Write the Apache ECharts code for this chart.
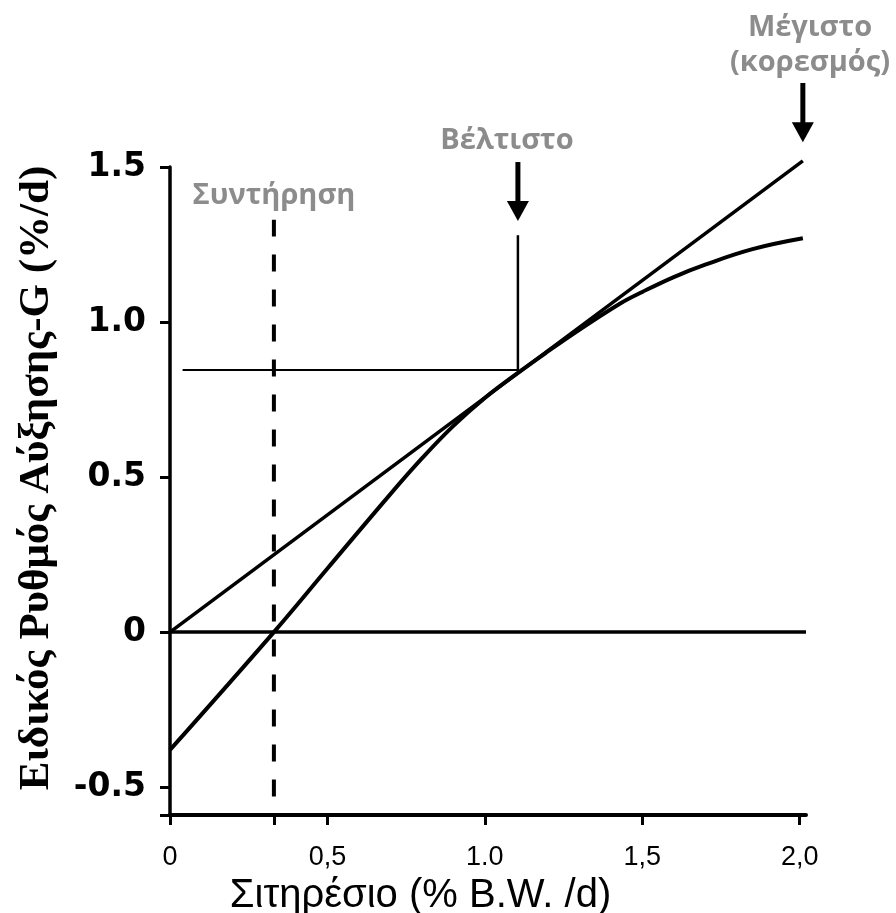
<!DOCTYPE html>
<html>
<head>
<meta charset="utf-8">
<style>
  html, body { margin: 0; padding: 0; background: #fff; }
  #chart { width: 896px; height: 913px; }
</style>
<script src="https://cdn.jsdelivr.net/npm/echarts@6/dist/echarts.min.js"></script>
</head>
<body>
<div id="chart"></div>
<script>
// Feeding rate (% B.W./d) on x, specific growth rate G (%/d) on y
const xTickValues = [0, 0.5, 1.0, 1.5, 2.0];
const xTickLabels = ['0', '0,5', '1.0', '1,5', '2,0'];
const yTickValues = [-0.5, 0, 0.5, 1.0, 1.5];
const yTickLabels = ['-0.5', '0', '0.5', '1.0', '1.5'];

// growth response curve
const rationX = [0, 0.33, 0.5, 0.7, 0.8, 0.9, 1.0, 1.105, 1.2, 1.3, 1.43, 1.5, 1.6, 1.7, 1.85, 2.01];
const growthY = [-0.38, 0, 0.205, 0.445, 0.56, 0.665, 0.755, 0.836, 0.905, 0.975, 1.06, 1.097, 1.145, 1.185, 1.235, 1.27];

// tangent from the origin, zero-growth line
const tangentX = [0, 2.01];
const tangentY = [0, 1.52];
const zeroX = [0, 2.02];
const zeroY = [0, 0];

// maintenance ration, optimum ration, maximum ration
const maintenanceRation = 0.33;
const optimumRation = 1.105;
const optimumGrowth = 0.845;
const maxRation = 2.01;

const X_MIN = 0, X_MAX = 2.02, Y_MIN = -0.59, Y_MAX = 1.5;

const toPairs = (xs, ys) => xs.map((x, i) => [x, ys[i]]);
const labelFor = (values, labels) => v => labels[values.findIndex(t => Math.abs(t - v) < 1e-6)];

const chart = echarts.init(document.getElementById('chart'), null, { renderer: 'canvas' });

const black = '#000';
const grey = '#8c8c8c';
const noteFont = 'bold 29px "Open Sans"';

const option = {
  animation: false,
  backgroundColor: '#fff',
  grid: { left: 170, top: 167, width: 636, height: 648, containLabel: false, outerBoundsMode: 'none' },
  xAxis: {
    type: 'value',
    min: X_MIN,
    max: X_MAX,
    name: 'Σιτηρέσιο (% B.W. /d)',
    nameLocation: 'middle',
    nameGap: 52,
    nameTextStyle: {
      fontFamily: 'Liberation Sans', fontSize: 40, color: black, padding: [0, 135, 0, 0]
    },
    axisLine: { onZero: false, lineStyle: { color: black, width: 4 } },
    axisTick: {
      customValues: [0, maintenanceRation].concat(xTickValues.slice(1)),
      length: 10, lineStyle: { color: black, width: 3 }
    },
    axisLabel: {
      customValues: xTickValues,
      formatter: labelFor(xTickValues, xTickLabels),
      fontFamily: 'Liberation Sans',
      fontSize: 27, color: black, margin: 29
    },
    splitLine: { show: false }
  },
  yAxis: {
    type: 'value',
    min: Y_MIN,
    max: Y_MAX,
    name: 'Ειδικός Ρυθμός Αύξησης-G (%/d)',
    nameLocation: 'middle',
    nameRotate: 90,
    nameGap: 112,
    nameTextStyle: {
      fontFamily: 'Liberation Serif', fontWeight: 'bold', fontSize: 43, color: black,
      padding: [0, 0, 0, 26]
    },
    axisLine: { onZero: false, lineStyle: { color: black, width: 3.5 } },
    axisTick: {
      customValues: [Y_MIN].concat(yTickValues), length: 10, lineStyle: { color: black, width: 3 }
    },
    axisLabel: {
      customValues: yTickValues,
      formatter: labelFor(yTickValues, yTickLabels),
      fontFamily: 'DejaVu Sans', fontWeight: 'bold', fontSize: 33, color: black, margin: 24
    },
    splitLine: { show: false }
  },
  series: [
    {
      name: 'zero', type: 'line', symbol: 'none', clip: false,
      data: toPairs(zeroX, zeroY),
      lineStyle: { color: black, width: 3.5 }
    },
    {
      name: 'tangent', type: 'line', symbol: 'none', clip: false,
      data: toPairs(tangentX, tangentY),
      lineStyle: { color: black, width: 3.5 }
    },
    {
      name: 'growth', type: 'line', symbol: 'none', clip: false, smooth: 0.4,
      data: toPairs(rationX, growthY),
      lineStyle: { color: black, width: 4 }
    },
    {
      name: 'optimum-h', type: 'line', symbol: 'none', clip: false,
      data: [[0.04, optimumGrowth], [optimumRation, optimumGrowth]],
      lineStyle: { color: black, width: 2 }
    },
    {
      name: 'optimum-v', type: 'line', symbol: 'none', clip: false,
      data: [[optimumRation, optimumGrowth], [optimumRation, 1.28]],
      lineStyle: { color: black, width: 2.5 }
    },
    {
      name: 'maintenance', type: 'line', symbol: 'none', clip: false,
      data: [[maintenanceRation, -0.53], [maintenanceRation, 1.33]],
      lineStyle: { color: black, width: 4, type: [17, 18] }
    },
    {
      // downward pointer arrows: [x, shaft top, tip]
      name: 'arrows', type: 'custom', clip: false,
      data: [[optimumRation, 1.516, 1.326], [maxRation, 1.771, 1.58]],
      renderItem: function (params, api) {
        const top = api.coord([api.value(0), api.value(1)]);
        const tip = api.coord([api.value(0), api.value(2)]);
        const headH = 20, headW = 22;
        return {
          type: 'group',
          children: [
            {
              type: 'rect',
              shape: { x: top[0] - 2.5, y: top[1], width: 5, height: tip[1] - top[1] - headH + 2 },
              style: { fill: black }
            },
            {
              type: 'polygon',
              shape: { points: [[tip[0] - headW / 2, tip[1] - headH], [tip[0] + headW / 2, tip[1] - headH], [tip[0], tip[1]]] },
              style: { fill: black }
            }
          ]
        };
      }
    }
  ],
  graphic: [
    {
      type: 'text', x: 274, y: 196,
      style: { text: 'Συντήρηση', font: noteFont, fill: grey, align: 'center', verticalAlign: 'middle' }
    },
    {
      type: 'text', x: 507, y: 141,
      style: { text: 'Βέλτιστο', font: noteFont, fill: grey, align: 'center', verticalAlign: 'middle' }
    },
    {
      type: 'text', x: 810, y: 28,
      style: { text: 'Μέγιστο', font: noteFont, fill: grey, align: 'center', verticalAlign: 'middle' }
    },
    {
      type: 'text', x: 810, y: 63,
      style: { text: '(κορεσμός)', font: noteFont, fill: grey, align: 'center', verticalAlign: 'middle' }
    }
  ]
};

chart.setOption(option);
</script>
</body>
</html>
